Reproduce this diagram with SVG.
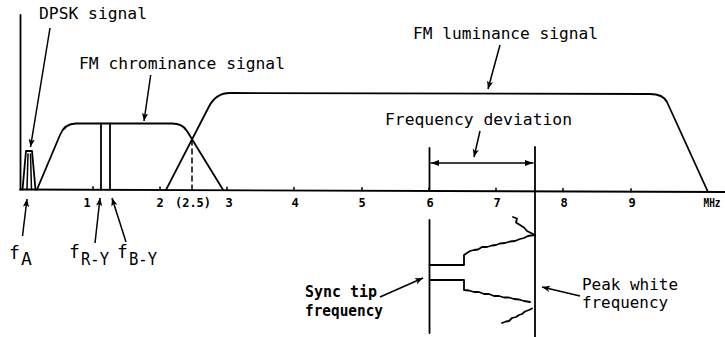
<svg xmlns="http://www.w3.org/2000/svg" width="725" height="337" viewBox="0 0 725 337">
<defs>
<style>
.ln{fill:none;stroke:#000;stroke-width:1.8;stroke-linejoin:round;stroke-linecap:round}
.thin{fill:none;stroke:#000;stroke-width:1.5;stroke-linecap:round}
.ar{fill:none;stroke:#000;stroke-width:1.5;marker-end:url(#ah)}
.t{font-family:"DejaVu Sans Mono","Liberation Mono",monospace;font-size:16px;fill:#000}
.tk{font-family:"DejaVu Sans Mono","Liberation Mono",monospace;font-size:12px;font-weight:bold;fill:#000;text-anchor:middle}
.f{font-family:"DejaVu Sans Mono","Liberation Mono",monospace;font-size:18px;fill:#000}
.b{font-weight:bold}
</style>
<marker id="ah" markerUnits="userSpaceOnUse" markerWidth="10" markerHeight="8" refX="8" refY="3.5" orient="auto">
<path d="M0,0.3 L8,3.5 L0,6.7 L2,3.5 z" fill="#000"/>
</marker>
<marker id="ahs" markerUnits="userSpaceOnUse" markerWidth="10" markerHeight="8" refX="8" refY="3.5" orient="auto-start-reverse">
<path d="M0,0.5 L8,3.5 L0,6.5 z" fill="#000"/>
</marker>
</defs>
<rect width="725" height="337" fill="#fff"/>

<g id="axes">
<line class="ln" x1="20.5" y1="15" x2="20.5" y2="189.5"/>
<line class="ln" x1="20" y1="189.5" x2="725" y2="192"/>
<path class="thin" d="M93 189.8v-3 M160 190v-3 M227 190.2v-3 M294 190.5v-3 M362 190.7v-3 M429 191v-3 M496 191.2v-3 M563 191.4v-3 M631 191.7v-3"/>
</g>

<g id="tick-labels">
<text class="tk" x="87" y="207">1</text>
<text class="tk" x="160" y="207">2</text>
<text class="tk" x="193" y="207">(2.5)</text>
<text class="tk" x="229" y="207">3</text>
<text class="tk" x="295" y="207">4</text>
<text class="tk" x="362" y="207">5</text>
<text class="tk" x="430" y="207">6</text>
<text class="tk" x="497" y="207">7</text>
<text class="tk" x="564" y="207">8</text>
<text class="tk" x="632" y="207">9</text>
<text class="tk" x="712" y="207" textLength="17" lengthAdjust="spacingAndGlyphs">MHz</text>
</g>

<g id="dpsk-signal">
<path class="ln" d="M22.5 189.5 L26 151 L32 151 L35.5 189.5"/>
<path class="thin" d="M27 189.5 L28 154 M31.5 189.5 L30.5 154"/>
<text class="t" x="39" y="19" textLength="108" lengthAdjust="spacingAndGlyphs">DPSK signal</text>
</g>

<g id="fm-chrominance">
<path class="ln" d="M37 189.5 L60 135 Q64.7 123.5 76 123.5 L172 123.5 Q182.5 123.5 187 131 L223 189.8"/>
<line class="ln" x1="101" y1="123.5" x2="101" y2="189.7"/>
<line class="ln" x1="110" y1="123.5" x2="110" y2="189.7"/>
<text class="t" x="79" y="69" textLength="206" lengthAdjust="spacingAndGlyphs">FM chrominance signal</text>
</g>

<g id="fm-luminance">
<path class="ln" d="M166 189.8 L209 106.5 Q216 93 230 93 L650 94 Q663 94 667 102 L708 192"/>
<line class="thin" x1="192" y1="140" x2="192" y2="189.5" stroke-dasharray="5 4"/>
<text class="t" x="413" y="39" textLength="185" lengthAdjust="spacingAndGlyphs">FM luminance signal</text>
</g>

<g id="frequency-deviation">
<line class="ln" x1="429.5" y1="148" x2="429.5" y2="191"/>
<line class="ln" x1="535" y1="147" x2="535" y2="337"/>
<line class="thin" x1="431" y1="163" x2="533" y2="163" marker-start="url(#ahs)" marker-end="url(#ahs)"/>
<text class="t" x="385" y="125" textLength="187" lengthAdjust="spacingAndGlyphs">Frequency deviation</text>
</g>

<g id="waveform">
<line class="ln" x1="429.5" y1="220" x2="429.5" y2="333"/>
<path class="ln" d="M429.5 265 L464 265 L464 255 L470 251 L474 250 L478 249.5 L482 247 L487 247 L492 245.5 L496 245 L500 243.5 L505 243 L510 241.5 L515 241 L520 239 L524 238 L528 236 L531 235.5 L535 235"/>
<path class="ln" d="M513 217 L517 218.5 L516 222.5 L520 225 L524 227.5 L527 231 L531 233 L535 235"/>
<path class="ln" d="M429.5 280 L464 280 L464 290 L469 290.5 L474 292 L479 292 L484 294 L489 294 L494 296 L499 296 L504 297.5 L509 297.5 L514 299 L519 299.5 L524 301 L530 302"/>
<path class="ln" d="M502 323 L506 321.5 L509 321 L512 318 L516 317 L519 315 L522 314 L525 311.5 L529 310 L532 308.5"/>
</g>

<g id="sync-tip-label">
<text class="t b" x="305" y="297" textLength="72" lengthAdjust="spacingAndGlyphs">Sync tip</text>
<text class="t b" x="305" y="316" textLength="78" lengthAdjust="spacingAndGlyphs">frequency</text>
</g>

<g id="peak-white-label">
<text class="t" x="582" y="290" textLength="96" lengthAdjust="spacingAndGlyphs">Peak white</text>
<text class="t" x="582" y="308" textLength="86" lengthAdjust="spacingAndGlyphs">frequency</text>
</g>

<g id="frequency-labels">
<text class="f" x="9" y="259">f</text>
<text class="f" x="21" y="265">A</text>
<text class="f" x="69" y="258">f</text>
<text class="f" x="81" y="265" textLength="28" lengthAdjust="spacingAndGlyphs">R-Y</text>
<text class="f" x="117" y="258">f</text>
<text class="f" x="129" y="265" textLength="28" lengthAdjust="spacingAndGlyphs">B-Y</text>
</g>

<g id="connectors">
<line class="ar" x1="50" y1="28" x2="30.5" y2="147"/>
<line class="ar" x1="150.7" y1="75" x2="144" y2="121"/>
<line class="ar" x1="500" y1="45" x2="488" y2="89"/>
<line class="ar" x1="480" y1="131" x2="474" y2="157"/>
<line class="ar" x1="22.5" y1="236" x2="27" y2="199"/>
<line class="ar" x1="95" y1="243" x2="100" y2="198"/>
<line class="ar" x1="126" y1="242" x2="112" y2="198"/>
<line class="ar" x1="380" y1="297" x2="423" y2="278"/>
<line class="ar" x1="580" y1="296" x2="542" y2="287"/>
</g>
</svg>
